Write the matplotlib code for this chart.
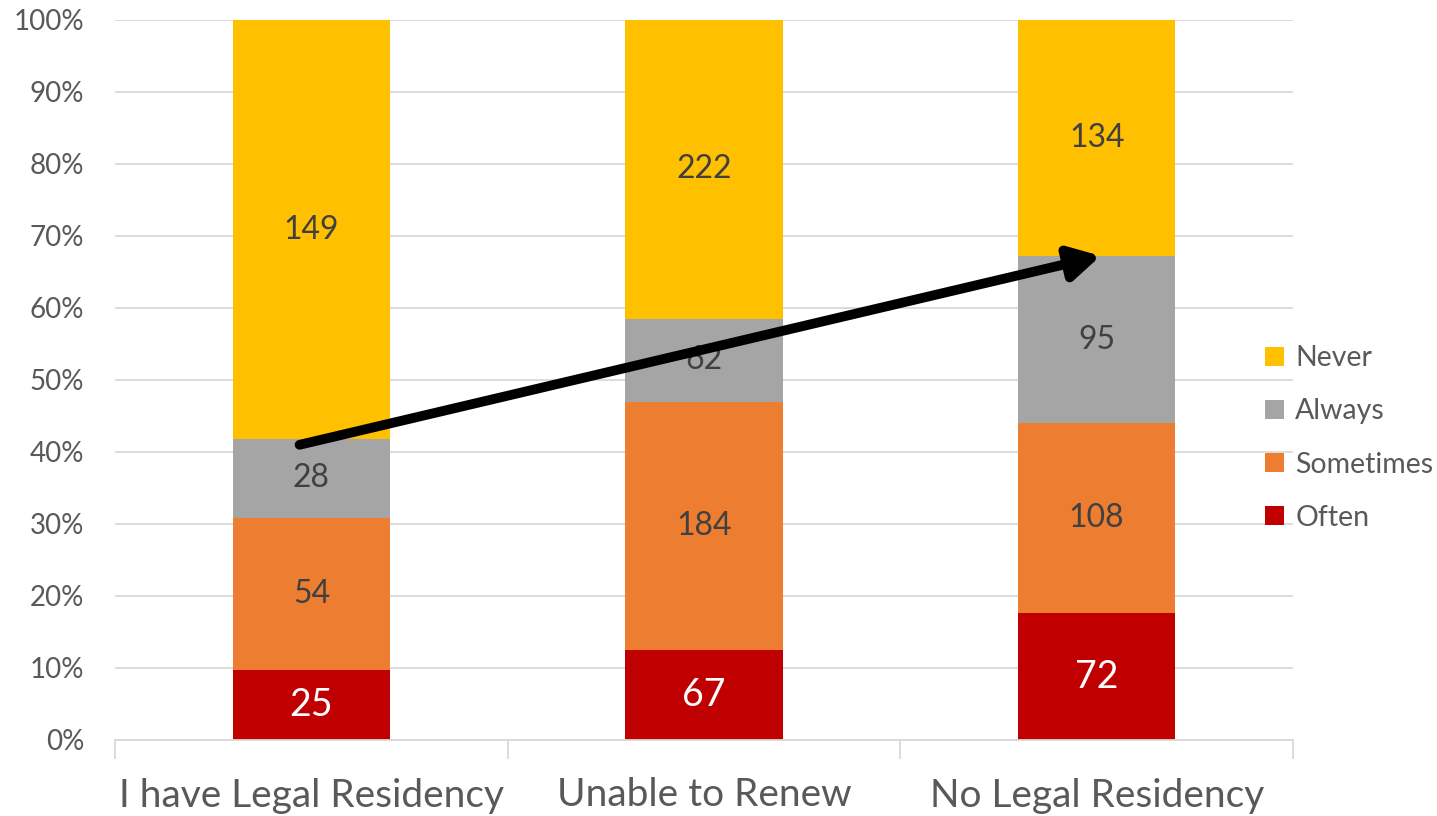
import matplotlib
matplotlib.use("Agg")
import matplotlib.pyplot as plt
import numpy as np

plt.rcParams['font.family'] = ['Lato', 'DejaVu Sans']

categories = ["I have Legal Residency", "Unable to Renew", "No Legal Residency"]
often = [25, 67, 72]
sometimes = [54, 184, 108]
always = [28, 62, 95]
never = [149, 222, 134]

series = [("Often", often, "#C00000", "white", 27),
          ("Sometimes", sometimes, "#ED7D31", "#404040", 23),
          ("Always", always, "#A5A5A5", "#404040", 23),
          ("Never", never, "#FFC000", "#404040", 23)]

totals = np.array(often) + np.array(sometimes) + np.array(always) + np.array(never)

fig = plt.figure(figsize=(14.37, 8.16), dpi=100)
ax = fig.add_axes([115/1437, 76/816, 1178/1437, 720/816])

x = np.arange(len(categories))
bottom = np.zeros(len(categories))
handles = {}
for name, vals, color, tcolor, fs in series:
    share = np.array(vals) / totals * 100
    bars = ax.bar(x, share, 0.4, bottom=bottom, color=color, zorder=2, label=name)
    handles[name] = bars
    for xi, b, s, v in zip(x, bottom, share, vals):
        ax.text(xi, b + s / 2, str(v), ha='center', va='center',
                fontsize=fs, color=tcolor, zorder=4)
    bottom += share

ax.set_xlim(-0.5, 2.5)
ax.set_ylim(0, 100)
ax.set_yticks(np.arange(0, 101, 10))
ax.set_yticklabels([f"{v}%" for v in range(0, 101, 10)])
ax.yaxis.grid(True, color="#D9D9D9", linewidth=1.3, zorder=0)
ax.set_axisbelow(True)
for s in ["top", "right", "left"]:
    ax.spines[s].set_visible(False)
ax.spines["bottom"].set_color("#D9D9D9")
ax.spines["bottom"].set_linewidth(1.3)
ax.tick_params(axis='y', length=0, labelsize=20, labelcolor="#595959", pad=22)

ax.set_xticks([-0.5, 0.5, 1.5, 2.5], minor=False)
ax.set_xticklabels([])
ax.tick_params(axis='x', which='major', length=14, color="#D9D9D9", width=1.3)
ax.set_xticks(x, minor=True)
ax.set_xticklabels(categories, minor=True)
ax.tick_params(axis='x', which='minor', length=0, labelsize=28, labelcolor="#595959", pad=27)

# Arrow showing rise of the Always+Sometimes+Often share
start_y = 41.0
end_y = (often[2] + sometimes[2] + always[2]) / totals[2] * 100
ax.annotate("", xy=(2.01, end_y), xytext=(-0.03, start_y),
            arrowprops=dict(arrowstyle="-|>,head_length=1.8,head_width=1.0",
                            color="black", lw=7, shrinkA=0, shrinkB=0),
            zorder=5)

leg = fig.legend([handles[n] for n in ["Never", "Always", "Sometimes", "Often"]],
                 ["Never", "Always", "Sometimes", "Often"],
                 loc="center left", bbox_to_anchor=(1254/1437, 1 - 438/816),
                 frameon=False, fontsize=20.5, labelcolor="#595959",
                 handlelength=0.65, handleheight=0.65, handletextpad=0.4,
                 labelspacing=0.95, borderaxespad=0)

fig.savefig("out.png", dpi=100)
